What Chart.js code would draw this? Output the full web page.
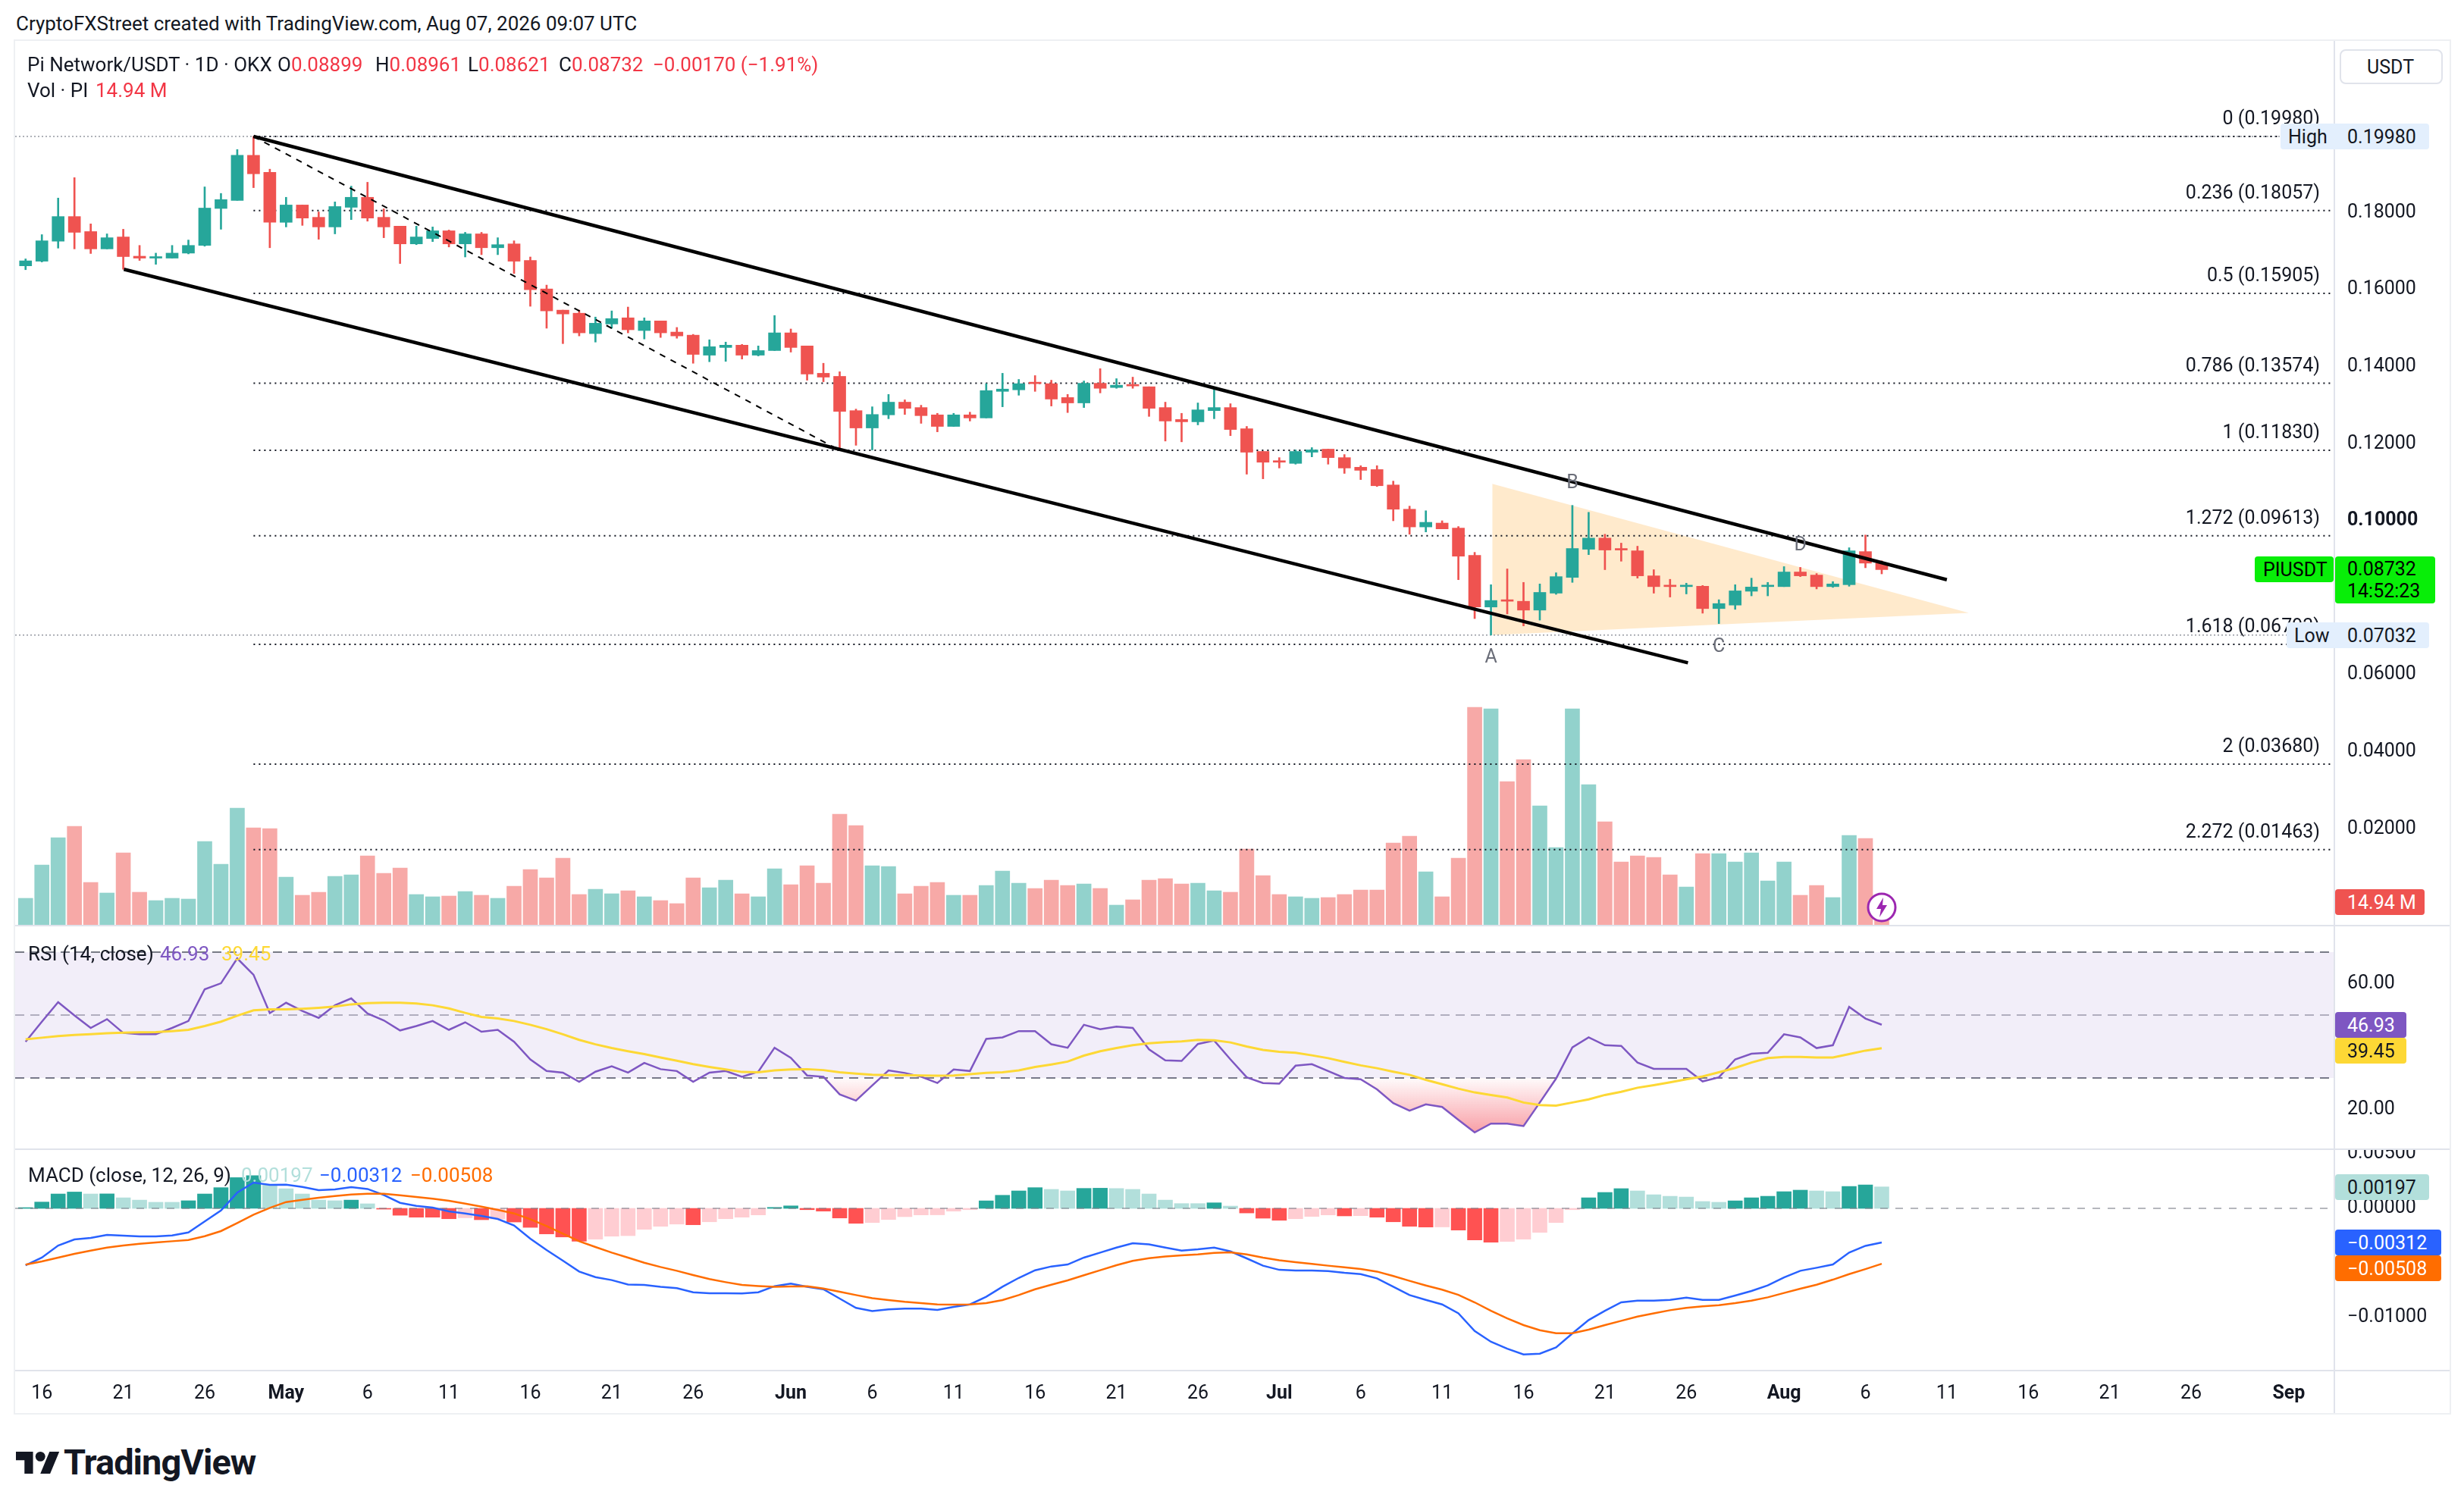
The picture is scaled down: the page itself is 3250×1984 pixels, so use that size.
<!DOCTYPE html>
<html>
<head>
<meta charset="utf-8">
<title>PIUSDT 1D</title>
<script src="https://cdn.jsdelivr.net/npm/chart.js@4.4.1/dist/chart.umd.min.js"></script>
<style>
  html, body { margin: 0; padding: 0; background: #fff; }
  body { position: relative; width: 3250px; height: 1984px; overflow: hidden; font-family: Roboto, sans-serif; color: #131722; }
  .a { position: absolute; white-space: nowrap; line-height: 34px; }
  canvas { position: absolute; left: 20px; }
  .hl { position: absolute; left: 20px; width: 3211px; height: 2px; background: #e0e3eb; }
  .tag { position: absolute; font-size: 25px; white-space: nowrap; border-radius: 4px; }
  .tag span { position: absolute; top: 50%; transform: translateY(-50%); }
  .red { color: #f23645; }
</style>
</head>
<body>
<div class="a" style="left:21px;top:14px;font-size:26px">CryptoFXStreet created with TradingView.com, Aug 07, 2026 09:07 UTC</div>
<div class="a" style="left:18px;top:52px;width:3211px;height:1810px;border:2px solid #eef0f3"></div>

<canvas id="cPrice" width="3211" height="1167" style="top:54px"></canvas>
<canvas id="cRsi" width="3211" height="294" style="top:1222px"></canvas>
<canvas id="cMacd" width="3211" height="347" style="top:1517px"></canvas>
<div class="hl" style="top:1220px"></div>
<div class="hl" style="top:1515px"></div>
<div class="hl" style="top:1807px"></div>
<div class="a" style="left:3078px;top:54px;width:2px;height:1810px;background:#e0e3eb"></div>

<div class="a" style="left:36px;top:68px;font-size:26px">Pi Network/USDT · 1D · OKX</div>
<div class="a" style="left:366px;top:68px;font-size:26px">O<span class="red">0.08899</span></div>
<div class="a" style="left:495px;top:68px;font-size:26px">H<span class="red">0.08961</span></div>
<div class="a" style="left:617px;top:68px;font-size:26px">L<span class="red">0.08621</span></div>
<div class="a" style="left:737px;top:68px;font-size:26px">C<span class="red">0.08732</span></div>
<div class="a red" style="left:861px;top:68px;font-size:26px">−0.00170 (−1.91%)</div>
<div class="a" style="left:36px;top:102px;font-size:26px">Vol · PI</div>
<div class="a red" style="left:126px;top:102px;font-size:26px">14.94 M</div>

<div class="a" style="left:37px;top:1241px;font-size:26px">RSI (14, close)</div>
<div class="a" style="left:211px;top:1241px;font-size:26px;color:#7e57c2">46.93</div>
<div class="a" style="left:292px;top:1241px;font-size:26px;color:#fdd835">39.45</div>
<div class="a" style="left:37px;top:1533px;font-size:26px">MACD (close, 12, 26, 9)</div>
<div class="a" style="left:318px;top:1533px;font-size:26px;color:#b2dfdb">0.00197</div>
<div class="a" style="left:421px;top:1533px;font-size:26px;color:#2962ff">−0.00312</div>
<div class="a" style="left:541px;top:1533px;font-size:26px;color:#ff6d00">−0.00508</div>

<svg class="a" style="left:21px;top:1908px" width="58" height="46" viewBox="0 0 36 28">
  <path d="M14 22H7V11H0V4h14v18zM28 22h-8l7.5-18h8L28 22z" fill="#131722"/>
  <circle cx="20" cy="8" r="4" fill="#131722"/>
</svg>
<div class="a" style="left:84px;top:1902px;font-size:47px;line-height:54px;font-weight:bold;letter-spacing:-1px">TradingView</div>

<svg class="a" style="left:2461px;top:1176px" width="42" height="42" viewBox="0 0 42 42">
  <circle cx="21" cy="21" r="18" fill="#fff" stroke="#9c27b0" stroke-width="3"/>
  <path d="M23 8 L14 23 H20 L18 34 L28 18 H22 Z" fill="#9c27b0"/>
</svg>

<script>
// daily candles, 15 Apr -> 7 Aug
const open = [0.1662,0.1674,0.1726,0.1790,0.1751,0.1706,0.1737,0.1687,0.1682,0.1682,
0.1695,0.1715,0.1811,0.1832,0.1949,0.1905,0.1775,0.1820,0.1788,0.1763,
0.1814,0.1840,0.1788,0.1765,0.1719,0.1733,0.1753,0.1719,0.1745,0.1709,
0.1719,0.1676,0.1602,0.1547,0.1539,0.1486,0.1511,0.1527,0.1494,0.1519,
0.1490,0.1482,0.1430,0.1450,0.1456,0.1430,0.1442,0.1488,0.1454,0.1383,
0.1375,0.1286,0.1241,0.1275,0.1308,0.1294,0.1275,0.1245,0.1275,0.1267,
0.1336,0.1340,0.1359,0.1356,0.1320,0.1306,0.1357,0.1346,0.1354,0.1348,
0.1294,0.1263,0.1257,0.1286,0.1294,0.1239,0.1180,0.1156,0.1149,0.1178,
0.1186,0.1164,0.1139,0.1133,0.1093,0.1030,0.0984,0.0994,0.0981,0.0910,
0.0776,0.0795,0.0791,0.0768,0.0812,0.0853,0.0926,0.0955,0.0928,0.0922,
0.0857,0.0832,0.0829,0.0830,0.0772,0.0781,0.0817,0.0829,0.0829,0.0867,
0.0859,0.0829,0.0834,0.0920,0.08899];
const high = [0.1680,0.1743,0.1838,0.1891,0.1771,0.1745,0.1757,0.1715,0.1695,0.1715,
0.1729,0.1867,0.1850,0.1964,0.1998,0.1913,0.1840,0.1820,0.1802,0.1828,
0.1869,0.1879,0.1810,0.1765,0.1765,0.1763,0.1755,0.1749,0.1749,0.1735,
0.1727,0.1685,0.1612,0.1547,0.1547,0.1529,0.1545,0.1555,0.1527,0.1519,
0.1502,0.1484,0.1470,0.1464,0.1458,0.1454,0.1533,0.1498,0.1454,0.1409,
0.1387,0.1290,0.1296,0.1328,0.1314,0.1300,0.1279,0.1279,0.1282,0.1356,
0.1383,0.1367,0.1377,0.1365,0.1328,0.1363,0.1395,0.1369,0.1373,0.1348,
0.1308,0.1279,0.1306,0.1342,0.1304,0.1245,0.1180,0.1164,0.1184,0.1190,
0.1186,0.1172,0.1143,0.1143,0.1103,0.1038,0.1026,0.1000,0.0985,0.0918,
0.0834,0.0875,0.0840,0.0836,0.0865,0.1040,0.1022,0.0965,0.0942,0.0934,
0.0873,0.0848,0.0838,0.0832,0.0795,0.0834,0.0851,0.0840,0.0881,0.0879,
0.0863,0.0842,0.0930,0.0963,0.08961];
const low = [0.1652,0.1672,0.1708,0.1706,0.1694,0.1706,0.1653,0.1676,0.1666,0.1682,
0.1693,0.1713,0.1757,0.1832,0.1865,0.1709,0.1763,0.1767,0.1731,0.1745,
0.1782,0.1778,0.1735,0.1668,0.1717,0.1725,0.1711,0.1685,0.1691,0.1691,
0.1642,0.1557,0.1500,0.1460,0.1480,0.1464,0.1500,0.1488,0.1472,0.1476,
0.1474,0.1409,0.1413,0.1414,0.1420,0.1428,0.1442,0.1438,0.1365,0.1361,
0.1186,0.1196,0.1184,0.1265,0.1276,0.1253,0.1231,0.1245,0.1259,0.1267,
0.1296,0.1326,0.1336,0.1298,0.1281,0.1294,0.1332,0.1344,0.1344,0.1271,
0.1207,0.1205,0.1249,0.1265,0.1221,0.1121,0.1109,0.1137,0.1147,0.1166,
0.1147,0.1123,0.1107,0.1089,0.1000,0.0965,0.0971,0.0979,0.0847,0.0746,
0.07032,0.0758,0.0727,0.0742,0.0809,0.0840,0.0912,0.0873,0.0895,0.0851,
0.0812,0.0802,0.0810,0.0760,0.0733,0.0770,0.0805,0.0805,0.0829,0.0855,
0.0823,0.0827,0.0830,0.0878,0.08621];
const close = [0.1675,0.1727,0.1790,0.1749,0.1706,0.1735,0.1686,0.1682,0.1685,0.1695,
0.1715,0.1812,0.1834,0.1949,0.1901,0.1775,0.1820,0.1786,0.1763,0.1816,
0.1840,0.1786,0.1763,0.1719,0.1737,0.1753,0.1719,0.1745,0.1709,0.1717,
0.1674,0.1600,0.1545,0.1537,0.1488,0.1513,0.1525,0.1496,0.1519,0.1488,
0.1480,0.1432,0.1452,0.1456,0.1430,0.1442,0.1488,0.1450,0.1381,0.1373,
0.1284,0.1241,0.1276,0.1308,0.1292,0.1273,0.1245,0.1275,0.1267,0.1338,
0.1342,0.1356,0.1356,0.1316,0.1306,0.1357,0.1344,0.1352,0.1350,0.1292,
0.1259,0.1257,0.1288,0.1294,0.1237,0.1178,0.1152,0.1152,0.1180,0.1184,
0.1164,0.1137,0.1131,0.1091,0.1030,0.0984,0.0996,0.0979,0.0908,0.0776,
0.0793,0.0791,0.0768,0.0814,0.0855,0.0928,0.0955,0.0924,0.0924,0.0857,
0.0829,0.0829,0.0832,0.0772,0.0785,0.0818,0.0828,0.0832,0.0867,0.0857,
0.0829,0.0836,0.0922,0.0890,0.08732];
// volume in millions PI
const volume = [17.5,39.5,57.5,65,28,21,47.5,21.5,16,17.5,
17,55,40,77,64,63.5,31.5,19.5,21.5,32,
33,45.5,34,37.5,20,18.5,19,22,19.5,17.5,
25.5,36.5,31,44,20,23.5,20.5,22.5,18.5,16,
14,31,24.5,29.5,20.5,18.5,37,26.5,39,27.5,
73,65.5,39,38.5,20.5,25.5,28,19.5,19.5,26,
35.5,27.5,24,29.5,26,27,24,13,16.5,29.5,
30.5,27,27.5,22.5,21.5,50,32.5,20,18.5,17.5,
18,20,23,23,54,58.5,35,18.5,44,143.5,
142.5,94.5,109,78.5,51,142.5,92.5,68,41.5,45.5,
44.5,33,25,47,47,41.5,47.5,29,41.5,19.5,
26,18,59,57,14.94];
const rsi = [41.5,47.9,54.1,49.9,45.9,48.7,44.3,43.9,43.9,45.9,
48.1,58.2,60.1,68.0,62.8,50.6,53.9,51.3,49.1,53.1,
55.3,50.5,48.3,45.1,46.5,48.1,45.3,47.7,44.7,45.3,
41.5,35.9,32.2,31.7,28.8,32.0,33.7,31.7,34.8,32.8,
32.2,28.8,31.7,32.2,30.4,32.0,39.6,36.4,30.8,30.4,
24.8,22.8,27.6,32.4,31.6,30.4,28.4,32.7,32.2,42.4,
42.9,44.9,44.9,40.7,39.6,46.9,45.5,46.3,45.9,39.1,
35.6,35.4,40.8,41.9,35.9,30.2,28.4,28.2,33.9,34.4,
32.2,30.0,29.6,26.4,22.0,19.6,21.6,20.8,16.7,12.7,
15.5,15.5,14.7,22.2,29.8,39.7,42.9,40.4,40.2,34.9,
32.9,32.9,32.9,28.9,30.2,35.9,37.7,38.0,43.9,42.9,
39.5,40.4,52.6,48.9,46.93];
const rsiMa = [42.3,42.8,43.3,43.7,43.9,44.2,44.4,44.5,44.6,44.9,
45.3,46.5,47.9,49.8,51.5,51.8,51.8,52.0,52.3,52.7,
53.4,53.8,53.9,53.9,53.7,53.1,52.1,50.7,49.4,48.9,
48.1,46.9,45.5,43.9,42.1,40.7,39.5,38.5,37.6,36.5,
35.5,34.4,33.5,32.7,31.9,31.8,32.4,32.7,32.8,32.5,
31.8,31.4,31.0,30.9,30.9,30.8,30.7,30.8,31.2,31.6,
31.8,32.4,33.5,34.3,35.2,37.1,38.5,39.5,40.4,41.0,
41.4,41.6,42.1,42.0,41.3,40.0,38.9,38.3,38.0,37.2,
36.3,35.1,34.0,33.1,32.0,31.0,29.4,28.0,26.6,25.4,
24.6,23.8,22.2,21.4,21.2,22.2,23.2,24.6,25.6,26.9,
27.7,28.6,29.6,30.5,31.8,33.2,34.9,36.3,36.7,36.7,
36.5,36.5,37.6,38.7,39.45];
const macd = [-0.00521,-0.00451,-0.0034,-0.00285,-0.00271,-0.00243,-0.0025,-0.00257,-0.00257,-0.00248,
-0.0022,-0.0012,-0.00019,0.00144,0.00236,0.00215,0.00218,0.00197,0.00167,0.00174,
0.00194,0.00178,0.00123,0.00051,0.00023,0.00007,-0.00028,-0.00046,-0.00069,-0.00097,
-0.00157,-0.00278,-0.00382,-0.00479,-0.00579,-0.0063,-0.00657,-0.00697,-0.00701,-0.00718,
-0.00731,-0.00769,-0.00778,-0.00778,-0.0078,-0.00769,-0.00713,-0.0069,-0.00718,-0.00741,
-0.00826,-0.00912,-0.0094,-0.00926,-0.00919,-0.00919,-0.00931,-0.00903,-0.0088,-0.0081,
-0.00718,-0.00637,-0.00567,-0.00532,-0.00514,-0.00451,-0.00405,-0.00359,-0.00319,-0.00329,
-0.00359,-0.00387,-0.00375,-0.00359,-0.00394,-0.00458,-0.00525,-0.00563,-0.00569,-0.00569,
-0.00574,-0.0059,-0.00602,-0.00641,-0.00718,-0.00794,-0.00838,-0.0088,-0.00961,-0.01123,
-0.01222,-0.01285,-0.01338,-0.01331,-0.01273,-0.01146,-0.01023,-0.00938,-0.00861,-0.00845,
-0.00845,-0.00838,-0.00817,-0.00838,-0.00838,-0.00799,-0.00757,-0.00706,-0.00632,-0.00572,
-0.00544,-0.00514,-0.00405,-0.00343,-0.00312];
const signal = [-0.00516,-0.00486,-0.00451,-0.00417,-0.00387,-0.00359,-0.0034,-0.00324,-0.00312,-0.00301,
-0.00289,-0.00255,-0.00208,-0.00134,-0.00058,0.00005,0.00058,0.00079,0.00097,0.00113,
0.00127,0.00134,0.00134,0.0012,0.00104,0.00088,0.00069,0.00044,0.00016,-0.00014,
-0.00046,-0.001,-0.00162,-0.00231,-0.00301,-0.00354,-0.00405,-0.00451,-0.00498,-0.00537,
-0.00572,-0.00611,-0.00648,-0.00676,-0.00701,-0.00711,-0.00718,-0.00715,-0.00713,-0.00734,
-0.00764,-0.00794,-0.00822,-0.0084,-0.00856,-0.00868,-0.0088,-0.00882,-0.0088,-0.00868,
-0.0084,-0.00794,-0.00741,-0.00699,-0.0066,-0.00613,-0.00567,-0.00521,-0.00481,-0.00456,
-0.0044,-0.00431,-0.00421,-0.00407,-0.00403,-0.00421,-0.00451,-0.00475,-0.00493,-0.00509,
-0.00525,-0.00539,-0.00556,-0.00579,-0.0062,-0.00664,-0.00706,-0.00745,-0.00792,-0.00861,
-0.00938,-0.01007,-0.01069,-0.01116,-0.01144,-0.01144,-0.01111,-0.01069,-0.0103,-0.00991,
-0.00961,-0.00933,-0.00912,-0.00898,-0.00887,-0.00868,-0.00845,-0.00815,-0.00775,-0.00736,
-0.00699,-0.00653,-0.00602,-0.00556,-0.00508];
const hist = [0.00007,0.00058,0.00132,0.0015,0.00132,0.00133,0.00097,0.00076,0.00056,0.00056,
0.0007,0.00132,0.0019,0.00282,0.003,0.00213,0.0018,0.00132,0.00076,0.0007,
0.00076,0.00042,-0.00007,-0.00063,-0.00081,-0.00081,-0.00095,-0.00086,-0.00104,-0.00097,
-0.00125,-0.00174,-0.00234,-0.00262,-0.00301,-0.00282,-0.00255,-0.0025,-0.00192,-0.00164,
-0.00144,-0.0015,-0.00123,-0.00095,-0.00081,-0.0006,0.00009,0.00023,-0.00012,-0.00025,
-0.00088,-0.00137,-0.0013,-0.00102,-0.00076,-0.0006,-0.00059,-0.00025,-0.00012,0.00069,
0.0012,0.0016,0.0019,0.00174,0.0016,0.00183,0.00185,0.00182,0.00174,0.00132,
0.00076,0.00044,0.00044,0.00051,0.00021,-0.00042,-0.0009,-0.00109,-0.00095,-0.00074,
-0.0006,-0.00069,-0.00067,-0.00081,-0.00123,-0.00164,-0.00171,-0.0017,-0.00199,-0.00289,
-0.0031,-0.00303,-0.00282,-0.0022,-0.0013,-0.00012,0.00097,0.00146,0.00181,0.0016,
0.00125,0.00111,0.00104,0.00063,0.00056,0.00069,0.00097,0.00111,0.00153,0.00167,
0.0016,0.00153,0.00201,0.00215,0.00197];

// date axis: candle index of each label
const tickIdx = [1,6,11,16,21,26,31,36,41,47,52,57,62,67,72,77,82,87,92,97,102,108,113,118,123,128,133,139];
const tickText = ['16','21','26','May','6','11','16','21','26','Jun','6','11','16','21','26','Jul','6','11','16','21','26','Aug','6','11','16','21','26','Sep'];
const priceTicks = [0.02,0.04,0.06,0.08,0.10,0.12,0.14,0.16,0.18,0.20];
const rsiTicks = [20,60];
const macdTicks = [0.005,0,-0.01];

// drawings
const fibLevels = ['0','0.236','0.5','0.786','1','1.272','1.618','2','2.272'];
const fibPrices = [0.1998,0.18057,0.15905,0.13574,0.1183,0.09613,0.06793,0.0368,0.01463];
const fibStart = 14;
const hiPrice = 0.1998, loPrice = 0.07032;
const chanUpperX = [14,118], chanUpperY = [0.1998,0.0847];
const chanLowerX = [6.04,102.1], chanLowerY = [0.1653,0.0631];
const fibLineX = [14,50], fibLineY = [0.1998,0.1183];
const triUpperX = [90.08,119.35], triUpperY = [0.1096,0.0761];
const triLowerX = [90.08,119.35], triLowerY = [0.07032,0.0761];
const ptText = ['A','B','C','D'];
const ptX = [90,95,104,109];
const ptY = [0.0645,0.1097,0.0672,0.0936];

const UP = '#26a69a', DOWN = '#ef5350';
const X_MIN = -0.64, X_MAX = 141.8;
const AXIS_W = 152;

Chart.defaults.font.family = 'Roboto, sans-serif';
Chart.defaults.font.size = 25;
Chart.defaults.color = '#131722';
Chart.defaults.animation = false;

function pts(xs, ys){
    return xs.map((x, k) => ({x: x, y: ys[k]}))
}

function serie(vals){
    return vals.map((v, i) => ({x: i, y: v}))
}

function flat(v, from){
    return [{x: from, y: v}, {x: X_MAX, y: v}]
}

function xAxis(show){
    return {
        type: 'linear', min: X_MIN, max: X_MAX, offset: false, display: show,
        grid: {display: false, drawTicks: false, offset: false},
        border: {display: false},
        afterBuildTicks: s => { s.ticks = tickIdx.map((v, k) => ({value: v, major: tickText[k].length > 2})) },
        afterFit: s => {
            if (show) s.height = 56;
            s.paddingLeft = 0; s.paddingRight = 0;
        },
        ticks: {
            autoSkip: false, maxRotation: 0, padding: 16,
            callback: (v, k) => tickText[k],
            font: c => ({size: 25, weight: c.tick && c.tick.major ? 'bold' : 'normal'})
        }
    }
}

function yAxis(min, max, vals, fmt, boldVal){
    return {
        position: 'right', min: min, max: max,
        grid: {display: false, drawTicks: false},
        border: {display: false},
        // keep the plot area the full pane height, labels may overhang
        afterFit: s => { s.width = AXIS_W; s.paddingTop = 0; s.paddingBottom = 0 },
        afterBuildTicks: s => { s.ticks = vals.map(v => ({value: v})) },
        ticks: {
            padding: 17, callback: fmt,
            font: c => ({size: 25, weight: boldVal !== undefined && c.tick && Math.abs(c.tick.value - boldVal) < 1e-9 ? 'bold' : 'normal'})
        }
    }
}

function line(data, color, width, extra){
    return Object.assign({type: 'line', data: data, borderColor: color, borderWidth: width,
        pointRadius: 0, fill: false, tension: 0}, extra || {})
}

const baseOptions = {
    responsive: false, animation: false,
    layout: {padding: 0, autoPadding: false},
    plugins: {legend: {display: false}, tooltip: {enabled: false}}
};

// fib labels and ABCD letters
const drawTexts = {
    id: 'drawTexts',
    afterDatasetsDraw(chart){
        const {ctx, scales: {x, y}} = chart;
        ctx.save();
        ctx.font = '25px Roboto, sans-serif';
        ctx.fillStyle = '#131722';
        ctx.textAlign = 'right';
        ctx.textBaseline = 'middle';
        fibLevels.forEach((lv, k) => {
            ctx.fillText(lv + ' (' + fibPrices[k].toFixed(5) + ')', x.right - 19, y.getPixelForValue(fibPrices[k]) - 22);
        });
        ctx.fillStyle = '#6a6d78';
        ctx.textAlign = 'center';
        ptText.forEach((t, k) => ctx.fillText(t, x.getPixelForValue(ptX[k]), y.getPixelForValue(ptY[k])));
        ctx.restore();
    }
};

const priceSets = [
    {data: open.map((o, i) => ({x: i, y: [Math.min(o, close[i]), Math.max(o, close[i])]})),
     backgroundColor: open.map((o, i) => close[i] >= o ? UP : DOWN),
     barThickness: 16, minBarLength: 2, grouped: false, order: 1},
    {data: open.map((o, i) => ({x: i, y: [low[i], high[i]]})),
     backgroundColor: open.map((o, i) => close[i] >= o ? UP : DOWN),
     barThickness: 2, grouped: false, order: 2},
    {data: serie(volume), yAxisID: 'yv',
     backgroundColor: open.map((o, i) => close[i] >= o ? 'rgba(38,166,154,0.5)' : 'rgba(239,83,80,0.5)'),
     barThickness: 19, grouped: false, order: 9},
    line(pts(triLowerX, triLowerY), 'rgba(0,0,0,0)', 0, {order: 6}),
    line(pts(triUpperX, triUpperY), 'rgba(0,0,0,0)', 0, {order: 6, fill: '-1', backgroundColor: 'rgba(255,152,0,0.2)'}),
    line(flat(hiPrice, X_MIN), '#9598a1', 1.5, {borderDash: [2, 3], order: 5}),
    line(flat(loPrice, X_MIN), '#9598a1', 1.5, {borderDash: [2, 3], order: 5}),
    line(pts(chanUpperX, chanUpperY), '#000', 4.5, {order: 0}),
    line(pts(chanLowerX, chanLowerY), '#000', 4.5, {order: 0}),
    line(pts(fibLineX, fibLineY), '#000', 2, {borderDash: [8, 8], order: 0})
];
fibPrices.forEach(p => priceSets.push(line(flat(p, fibStart), '#131722', 2, {borderDash: [2, 5], order: 4})));

const priceChart = new Chart(document.getElementById('cPrice'), {
    type: 'bar',
    data: {datasets: priceSets},
    options: Object.assign({}, baseOptions, {
        scales: {
            x: xAxis(false),
            y: yAxis(-0.00512, 0.22460, priceTicks, v => v.toFixed(5), 0.1),
            yv: {display: false, min: -0.5, max: 583}
        }
    }),
    plugins: [drawTexts]
});

const rsiChart = new Chart(document.getElementById('cRsi'), {
    type: 'line',
    data: {datasets: [
        line(flat(70, X_MIN), '#787b86', 2, {borderDash: [12, 8], fill: '+1', backgroundColor: 'rgba(126,87,194,0.1)', order: 5}),
        line(flat(30, X_MIN), '#787b86', 2, {borderDash: [12, 8], order: 5}),
        line(flat(50, X_MIN), 'rgba(120,123,134,0.55)', 2, {borderDash: [12, 8], order: 5}),
        line(serie(rsi), '#7e57c2', 2.5, {order: 2, fill: {target: {value: 30}, above: 'rgba(0,0,0,0)', below: 'rgba(242,54,69,0.3)'}}),
        line(serie(rsiMa), '#fdd835', 3, {order: 1})
    ]},
    options: Object.assign({}, baseOptions, {
        scales: {x: xAxis(false), y: yAxis(7.35, 78.19, rsiTicks, v => v.toFixed(2))}
    })
});
// oversold area fades in below 30
const rY = rsiChart.scales.y;
const grad = rsiChart.ctx.createLinearGradient(0, rY.getPixelForValue(30), 0, rY.getPixelForValue(8));
grad.addColorStop(0, 'rgba(242,54,69,0.02)');
grad.addColorStop(1, 'rgba(242,54,69,0.6)');
rsiChart.data.datasets[3].fill.below = grad;
rsiChart.update();

const histColors = hist.map((h, i) => {
    const prev = i > 0 ? hist[i - 1] : -1;
    if (h >= 0) return prev < h ? '#26a69a' : '#b2dfdb';
    return prev < h ? '#ffcdd2' : '#ff5252';
});
const minusFmt = v => (v < 0 ? '−' : '') + Math.abs(v).toFixed(5);

const macdChart = new Chart(document.getElementById('cMacd'), {
    type: 'bar',
    data: {datasets: [
        line(flat(0, X_MIN), 'rgba(120,123,134,0.55)', 2, {borderDash: [10, 10], order: 3}),
        {data: serie(hist), backgroundColor: histColors, barThickness: 19, grouped: false, order: 4},
        line(serie(macd), '#2962ff', 2.5, {order: 2}),
        line(serie(signal), '#ff6d00', 2.5, {order: 1})
    ]},
    options: Object.assign({}, baseOptions, {
        scales: {x: xAxis(true), y: yAxis(-0.01486, 0.00535, macdTicks, minusFmt)}
    })
});

// price-scale tags
function tag(left, width, cy, h, bg, fg, parts, extra){
    const d = document.createElement('div');
    d.className = 'tag';
    d.style.left = left + 'px';
    d.style.width = width + 'px';
    d.style.top = Math.round(cy - h / 2) + 'px';
    d.style.height = h + 'px';
    d.style.background = bg;
    d.style.color = fg;
    if (extra) Object.assign(d.style, extra);
    parts.forEach(p => {
        const s = document.createElement('span');
        s.textContent = p[0];
        s.style.left = p[1] + 'px';
        if (p[2] !== undefined) { s.style.top = p[2] + 'px'; s.style.transform = 'none'; }
        d.appendChild(s);
    });
    document.body.appendChild(d);
    return Math.round(cy - h / 2) + h;
}
const pY = v => 54 + priceChart.scales.y.getPixelForValue(v);
const vY = v => 54 + priceChart.scales.yv.getPixelForValue(v);
const rsiY = v => 1222 + rsiChart.scales.y.getPixelForValue(v);
const mY = v => 1517 + macdChart.scales.y.getPixelForValue(v);

tag(3086, 136, 88, 46, '#fff', '#131722', [['USDT', 34]], {border: '2px solid #e0e3eb', borderRadius: '8px', boxSizing: 'border-box'});
tag(3008, 196, pY(hiPrice), 34, '#e3effd', '#131722', [['High', 10], ['0.19980', 88]]);
tag(3016, 188, pY(loPrice), 34, '#e3effd', '#131722', [['Low', 10], ['0.07032', 80]]);
const lastY = pY(close[close.length - 1]);
tag(2974, 104, lastY, 34, '#08ee08', '#000', [['PIUSDT', 11]]);
tag(3080, 132, lastY + 14, 62, '#08ee08', '#000', [['0.08732', 16, 2], ['14:52:23', 16, 31]]);
tag(3080, 118, vY(volume[volume.length - 1]), 34, '#ef5350', '#fff', [['14.94 M', 16]]);

const r1 = tag(3080, 94, rsiY(rsi[rsi.length - 1]), 34, '#7e57c2', '#fff', [['46.93', 16]]);
tag(3080, 94, Math.max(rsiY(rsiMa[rsiMa.length - 1]), r1 + 17), 34, '#fdd835', '#131722', [['39.45', 16]]);
tag(3080, 124, mY(hist[hist.length - 1]), 34, '#b2dfdb', '#131722', [['0.00197', 16]]);
const m1 = tag(3080, 140, mY(macd[macd.length - 1]), 34, '#2962ff', '#fff', [['−0.00312', 16]]);
tag(3080, 140, Math.max(mY(signal[signal.length - 1]), m1 + 17), 34, '#ff6d00', '#fff', [['−0.00508', 16]]);
</script>
</body>
</html>
